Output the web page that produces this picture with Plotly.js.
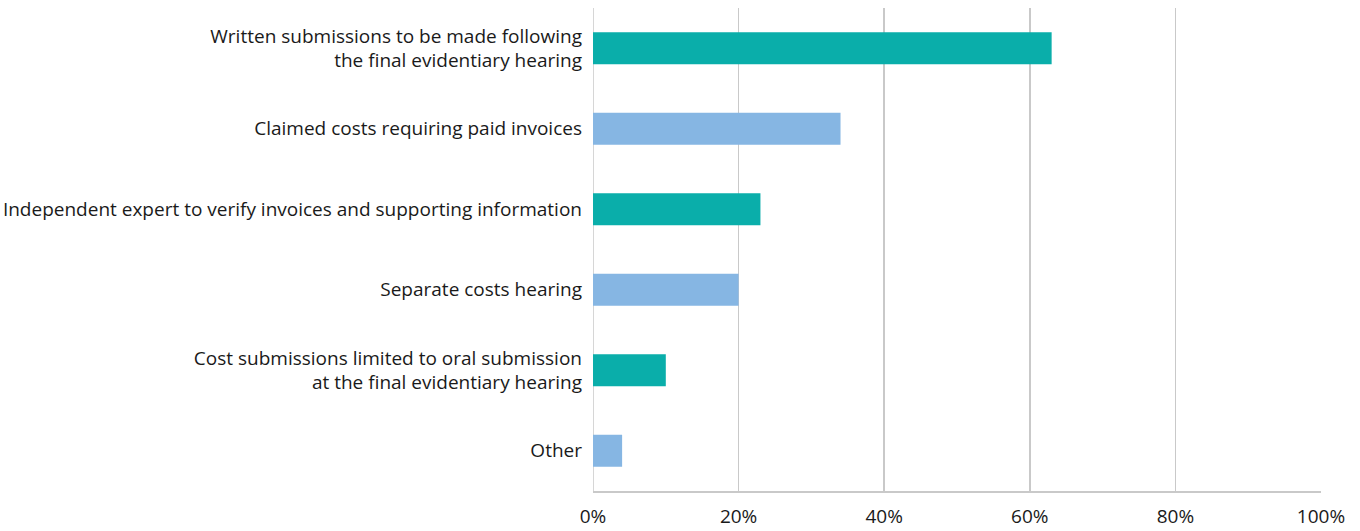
<!DOCTYPE html>
<html><head><meta charset="utf-8">
<script src="https://cdn.plot.ly/plotly-3.0.1.min.js"></script>
<style>html,body{margin:0;padding:0;background:#fff;}#chart{width:1360px;height:531px;}</style>
</head><body><div id="chart"></div>
<script>
const categories = [
  "Written submissions to be made following<br>the final evidentiary hearing",
  "Claimed costs requiring paid invoices",
  "Independent expert to verify invoices and supporting information",
  "Separate costs hearing",
  "Cost submissions limited to oral submission<br>at the final evidentiary hearing",
  "Other"
];
const values = [63, 34, 23, 20, 10, 4];
const barColors = ["#0aaeaa", "#86b6e3", "#0aaeaa", "#86b6e3", "#0aaeaa", "#86b6e3"];
const tickVals = [0, 20, 40, 60, 80, 100];
const tickText = ["0%", "20%", "40%", "60%", "80%", "100%"];

Plotly.newPlot("chart", [{
  type: "bar",
  orientation: "h",
  y: categories,
  x: values,
  width: 0.4,
  marker: {color: barColors},
  hoverinfo: "x+y"
}], {
  width: 1360, height: 531,
  margin: {l: 593, r: 39, t: 8, b: 40},
  paper_bgcolor: "#fff", plot_bgcolor: "#fff",
  font: {family: "Open Sans, sans-serif", size: 19, color: "#1a1a1a"},
  showlegend: false,
  xaxis: {
    range: [0, 100], tickvals: tickVals, ticktext: tickText,
    showgrid: true, gridcolor: "#c9c9c9", gridwidth: 1.5,
    zeroline: false, showline: true, linecolor: "#c9c9c9", linewidth: 1.5,
    ticks: "", ticklabelstandoff: 8, fixedrange: true
  },
  yaxis: {
    autorange: "reversed", showgrid: false, zeroline: false,
    showline: false, ticks: "", ticklabelstandoff: 10, fixedrange: true
  },
  shapes: [{type: "line", xref: "x", yref: "paper", x0: 0, x1: 0, y0: 0, y1: 1,
            line: {color: "#c9c9c9", width: 1.5}, layer: "below"}]
}, {displayModeBar: false, staticPlot: true});
</script></body></html>
